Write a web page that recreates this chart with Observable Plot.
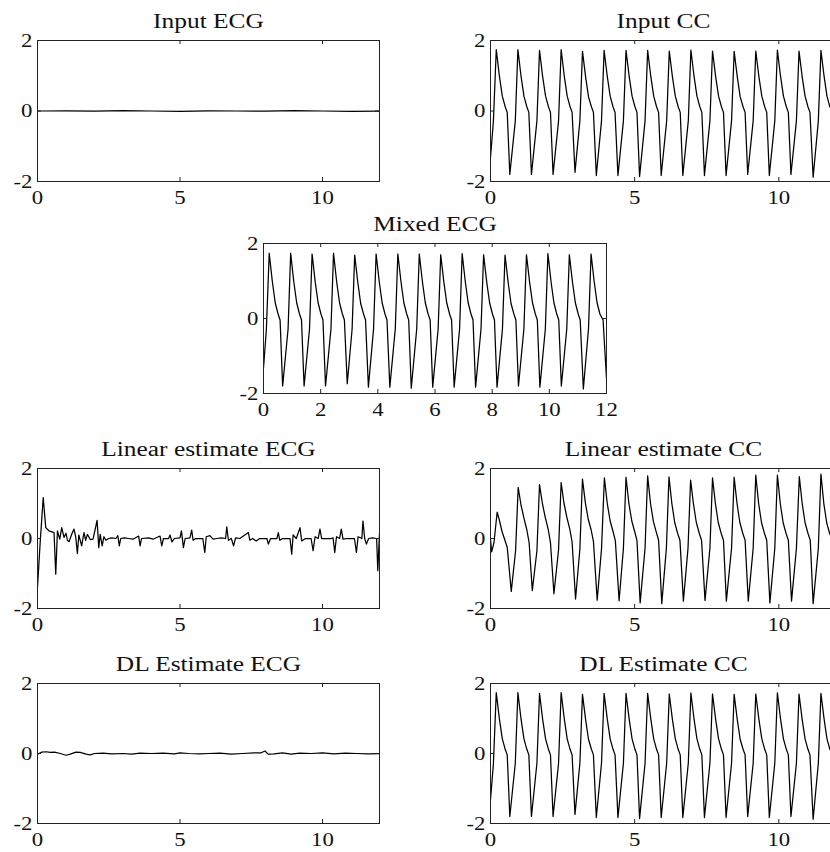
<!DOCTYPE html>
<html><head><meta charset="utf-8">
<script src="https://cdn.jsdelivr.net/npm/d3@7"></script>
<script src="https://cdn.jsdelivr.net/npm/@observablehq/plot@0.6"></script>
<style>
html,body{margin:0;padding:0;background:#fff;overflow:hidden;}
#wrap{position:relative;width:830px;height:852px;overflow:hidden;background:#fff;}
.panel{position:absolute;}
.panel svg{max-width:none !important;}
</style></head><body><div id="wrap"></div>
<script>
// ---- tick values ----
const yTicks = [-2, 0, 2];
const xTicksWide = [0, 5, 10];
const xTicksMixed = [0, 2, 4, 6, 8, 10, 12];

// ---- titles ----
const titles = ["Input ECG", "Input CC", "Mixed ECG", "Linear estimate ECG", "Linear estimate CC", "DL Estimate ECG", "DL Estimate CC"];

// ---- series: [time, value] vertices ----
const inputEcg = [[0,0],[1,0.005],[2,-0.005],[3,0.01],[4,0],[5,-0.01],[6,0.005],[7,0],[8,-0.005],[9,0.01],[10,0],[11,-0.01],[12,0]];

const inputCc = [
 [0,-1.32],[0.10,-0.30],
 [0.20,1.74],[0.31,0.98],[0.41,0.42],[0.51,0.12],[0.58,-0.04],[0.67,-1.80],[0.86,-0.28],
 [0.95,1.74],[1.06,0.98],[1.16,0.42],[1.26,0.12],[1.33,-0.04],[1.42,-1.80],[1.61,-0.28],
 [1.70,1.72],[1.81,0.97],[1.91,0.42],[2.01,0.12],[2.08,-0.04],[2.17,-1.80],[2.36,-0.28],
 [2.45,1.74],[2.56,0.98],[2.66,0.42],[2.76,0.12],[2.83,-0.04],[2.93,-1.74],[3.10,-0.28],
 [3.19,1.69],[3.30,0.96],[3.40,0.40],[3.50,0.12],[3.57,-0.04],[3.67,-1.83],[3.85,-0.28],
 [3.94,1.72],[4.05,0.98],[4.15,0.42],[4.25,0.12],[4.32,-0.04],[4.42,-1.83],[4.61,-0.28],
 [4.70,1.72],[4.81,0.98],[4.91,0.42],[5.01,0.12],[5.08,-0.04],[5.17,-1.86],[5.36,-0.28],
 [5.45,1.72],[5.56,0.98],[5.66,0.42],[5.76,0.12],[5.83,-0.04],[5.92,-1.83],[6.11,-0.28],
 [6.20,1.70],[6.31,0.97],[6.41,0.42],[6.51,0.12],[6.58,-0.04],[6.67,-1.83],[6.86,-0.28],
 [6.95,1.73],[7.06,0.98],[7.16,0.42],[7.26,0.12],[7.33,-0.04],[7.42,-1.83],[7.61,-0.28],
 [7.70,1.70],[7.81,0.97],[7.91,0.42],[8.01,0.12],[8.08,-0.04],[8.17,-1.83],[8.36,-0.28],
 [8.45,1.69],[8.56,0.96],[8.66,0.40],[8.76,0.12],[8.83,-0.04],[8.92,-1.80],[9.11,-0.28],
 [9.20,1.70],[9.31,0.97],[9.41,0.42],[9.51,0.12],[9.58,-0.04],[9.67,-1.83],[9.86,-0.28],
 [9.95,1.73],[10.06,0.98],[10.16,0.42],[10.26,0.12],[10.33,-0.04],[10.42,-1.80],[10.61,-0.28],
 [10.70,1.70],[10.81,0.97],[10.91,0.42],[11.01,0.12],[11.08,-0.04],[11.19,-1.88],[11.37,-0.28],
 [11.46,1.72],[11.57,0.98],[11.67,0.42],[11.77,0.12],[11.88,-0.04],[12.0,-1.60]
];

// Mixed signal = CC + ECG (ECG is ~0, so it follows the CC trace)
const mixedEcg = inputCc;
// DL estimate of CC overlays the input CC trace
const dlCc = inputCc;

const linearEcg = [
 [0,-1.40],[0.09,-0.16],[0.20,1.17],[0.29,0.31],[0.40,0.22],[0.58,0.17],[0.64,-1.02],[0.70,0.22],[0.78,-0.02],[0.85,0.31],
 [0.93,0.03],[1.00,0.15],[1.05,-0.05],[1.11,-0.09],[1.20,0.12],[1.28,0.27],[1.34,0.05],[1.40,-0.43],[1.45,0.10],[1.55,-0.21],
 [1.63,0.17],[1.69,-0.05],[1.75,0.12],[1.85,-0.03],[1.95,-0.02],[2.09,0.52],[2.15,-0.26],[2.20,0.12],[2.27,-0.21],[2.33,0.05],
 [2.40,-0.05],[2.50,0.0],[2.60,0.02],[2.75,0.0],[2.82,0.08],[2.87,-0.21],[2.92,0.0],[3.05,0.02],[3.20,0.0],[3.35,-0.02],
 [3.55,0.07],[3.60,-0.21],[3.65,0.0],[3.90,0.02],[4.05,-0.02],[4.30,0.07],[4.36,-0.21],[4.42,0.0],[4.60,0.0],[4.65,0.10],
 [4.72,-0.10],[4.80,0.0],[5.00,0.02],[5.05,0.22],[5.12,-0.26],[5.18,0.0],[5.35,0.02],[5.41,0.24],[5.46,-0.05],[5.55,0.0],
 [5.80,0.0],[5.87,-0.40],[5.92,0.05],[6.05,0.08],[6.16,-0.02],[6.30,0.0],[6.45,0.02],[6.60,0.0],[6.64,0.33],[6.70,-0.05],
 [6.80,0.0],[6.88,-0.21],[6.95,0.02],[7.10,0.0],[7.40,0.17],[7.45,-0.05],[7.55,0.0],[7.67,-0.07],[7.80,0.0],[8.05,0.0],
 [8.10,-0.16],[8.18,0.0],[8.40,0.0],[8.45,0.17],[8.50,-0.05],[8.60,0.0],[8.86,0.0],[8.92,-0.45],[8.97,0.10],[9.08,0.0],
 [9.21,0.31],[9.27,-0.07],[9.40,0.0],[9.60,0.0],[9.67,-0.35],[9.74,0.05],[9.85,0.0],[9.91,0.27],[9.97,0.0],[10.10,0.0],
 [10.30,0.0],[10.37,0.02],[10.43,-0.40],[10.49,0.05],[10.60,0.0],[10.66,0.27],[10.72,-0.02],[10.85,0.0],[11.12,0.0],[11.19,-0.40],
 [11.25,0.05],[11.38,0.0],[11.42,0.50],[11.48,0.0],[11.54,-0.16],[11.62,0.0],[11.75,0.02],[11.90,0.0],[11.94,-0.92],[12.0,0.15]
];

const linearCc = [
 [0,-0.02],[0.04,-0.38],[0.12,-0.12],[0.23,0.75],[0.30,0.55],[0.40,0.20],[0.58,-0.25],[0.72,-1.51],[0.87,-0.35],
 [0.96,1.46],[1.06,0.95],[1.16,0.58],[1.26,0.25],[1.34,-0.12],[1.45,-1.49],[1.61,-0.35],
 [1.70,1.54],[1.80,1.00],[1.90,0.60],[2.00,0.27],[2.08,-0.12],[2.20,-1.58],[2.36,-0.33],
 [2.45,1.60],[2.55,1.00],[2.65,0.60],[2.75,0.27],[2.83,-0.10],[2.95,-1.73],[3.10,-0.30],
 [3.19,1.70],[3.29,1.02],[3.39,0.55],[3.49,0.25],[3.57,-0.08],[3.70,-1.76],[3.85,-0.30],
 [3.95,1.73],[4.05,1.00],[4.15,0.50],[4.25,0.20],[4.33,-0.06],[4.46,-1.78],[4.61,-0.28],
 [4.70,1.75],[4.80,1.00],[4.90,0.50],[5.00,0.20],[5.08,-0.06],[5.19,-1.84],[5.36,-0.28],
 [5.45,1.79],[5.55,1.00],[5.65,0.48],[5.75,0.18],[5.83,-0.05],[5.94,-1.86],[6.10,-0.28],
 [6.19,1.76],[6.29,1.00],[6.39,0.45],[6.49,0.15],[6.57,-0.05],[6.69,-1.79],[6.85,-0.28],
 [6.94,1.67],[7.04,0.98],[7.14,0.45],[7.24,0.15],[7.32,-0.05],[7.44,-1.77],[7.61,-0.28],
 [7.70,1.73],[7.80,1.00],[7.90,0.45],[8.00,0.15],[8.08,-0.05],[8.18,-1.79],[8.36,-0.28],
 [8.45,1.75],[8.55,1.00],[8.65,0.45],[8.75,0.15],[8.83,-0.05],[8.94,-1.79],[9.11,-0.28],
 [9.20,1.81],[9.30,1.00],[9.40,0.45],[9.50,0.15],[9.58,-0.05],[9.69,-1.84],[9.86,-0.28],
 [9.95,1.81],[10.05,1.00],[10.15,0.45],[10.25,0.15],[10.33,-0.05],[10.44,-1.79],[10.61,-0.28],
 [10.71,1.77],[10.81,1.00],[10.91,0.45],[11.01,0.15],[11.09,-0.05],[11.19,-1.86],[11.37,-0.28],
 [11.46,1.84],[11.56,1.00],[11.66,0.45],[11.76,0.15],[11.86,-0.04],[12.0,-1.50]
];

const dlEcg = [
 [0,-0.02],[0.15,0.04],[0.30,0.05],[0.45,0.03],[0.60,0.04],[0.80,0.0],[1.00,-0.05],[1.15,-0.02],[1.35,0.04],[1.50,0.03],
 [1.70,-0.02],[1.85,-0.04],[2.00,0.0],[2.30,0.01],[2.60,-0.01],[3.00,0.0],[3.30,-0.02],[3.60,0.01],[4.00,0.0],[4.40,0.01],
 [4.80,-0.01],[5.00,0.02],[5.30,0.0],[5.70,-0.01],[6.00,0.0],[6.40,0.01],[6.80,-0.02],[7.20,0.0],[7.60,0.02],[7.85,0.02],
 [7.98,0.07],[8.10,-0.02],[8.30,-0.01],[8.60,0.02],[8.90,-0.02],[9.20,0.01],[9.60,0.0],[10.00,0.02],[10.40,-0.01],[10.80,0.01],
 [11.20,0.0],[11.60,-0.01],[12.0,0.0]
];

const wrap = document.getElementById("wrap");
const ink = "#222";

function panel({left, top, width, height, box, title, data, xticks}) {
  const [bx0, bx1, by0, by1] = box;
  const bw = bx1 - bx0, bh = by1 - by0;
  const fmt = d => String(d);
  const svg = Plot.plot({
    width, height,
    marginLeft: bx0 - left, marginRight: left + width - bx1,
    marginTop: by0 - top, marginBottom: top + height - by1,
    style: {fontFamily: "'Liberation Serif', 'Times New Roman', serif", fontSize: "19px", color: "#111", background: "transparent", overflow: "visible", maxWidth: "none"},
    x: {domain: [0, 12]},
    y: {domain: [-2, 2]},
    marks: [
      Plot.line(data, {x: d => d[0], y: d => d[1], stroke: "#000", strokeWidth: 1.25, clip: true}),
      Plot.frame({stroke: ink, strokeWidth: 1}),
      Plot.tickX(xticks, {x: d => d, insetTop: bh - 4, stroke: ink}),
      Plot.tickX(xticks, {x: d => d, insetBottom: bh - 4, stroke: ink}),
      Plot.tickY(yTicks, {y: d => d, insetLeft: bw - 4, stroke: ink}),
      Plot.tickY(yTicks, {y: d => d, insetRight: bw - 4, stroke: ink}),
      Plot.axisX({ticks: xticks, tickSize: 0, tickPadding: 9, tickFormat: fmt, label: null}),
      Plot.axisY({ticks: yTicks, tickSize: 0, tickPadding: 5, tickFormat: fmt, label: null}),
      Plot.text([title], {text: d => d, frameAnchor: "top", lineAnchor: "bottom", dy: -13, fontSize: 20, fill: "#111"})
    ]
  });
  svg.style.maxWidth = "none";
  svg.style.width = width + "px";
  svg.style.height = height + "px";
  // widen glyphs horizontally about each text's anchor point
  const scaleText = (sel, s) => svg.querySelectorAll(sel).forEach(t => {
    const tr = t.getAttribute("transform") || "";
    t.setAttribute("transform", `${tr} scale(${s},1)`);
  });
  scaleText('g[aria-label="text"] text', 1.27);
  scaleText('g[aria-label$="tick label"] text', 1.2);
  const div = document.createElement("div");
  div.className = "panel";
  div.style.left = left + "px";
  div.style.top = top + "px";
  div.style.width = width + "px";
  div.style.height = height + "px";
  div.appendChild(svg);
  wrap.appendChild(div);
}

panel({left: 0,   top: 0,   width: 400, height: 210, box: [37, 379, 40, 181],  title: titles[0], data: inputEcg,  xticks: xTicksWide});
panel({left: 460, top: 0,   width: 400, height: 210, box: [490, 836, 40, 181], title: titles[1], data: inputCc,   xticks: xTicksWide});
panel({left: 230, top: 210, width: 400, height: 210, box: [263, 606, 243, 393], title: titles[2], data: mixedEcg, xticks: xTicksMixed});
panel({left: 0,   top: 430, width: 400, height: 210, box: [37, 379, 468, 608], title: titles[3], data: linearEcg, xticks: xTicksWide});
panel({left: 460, top: 430, width: 400, height: 210, box: [490, 836, 468, 608], title: titles[4], data: linearCc, xticks: xTicksWide});
panel({left: 0,   top: 640, width: 400, height: 212, box: [37, 379, 683, 823], title: titles[5], data: dlEcg,     xticks: xTicksWide});
panel({left: 460, top: 640, width: 400, height: 212, box: [490, 836, 683, 823], title: titles[6], data: dlCc,     xticks: xTicksWide});
</script></body></html>
